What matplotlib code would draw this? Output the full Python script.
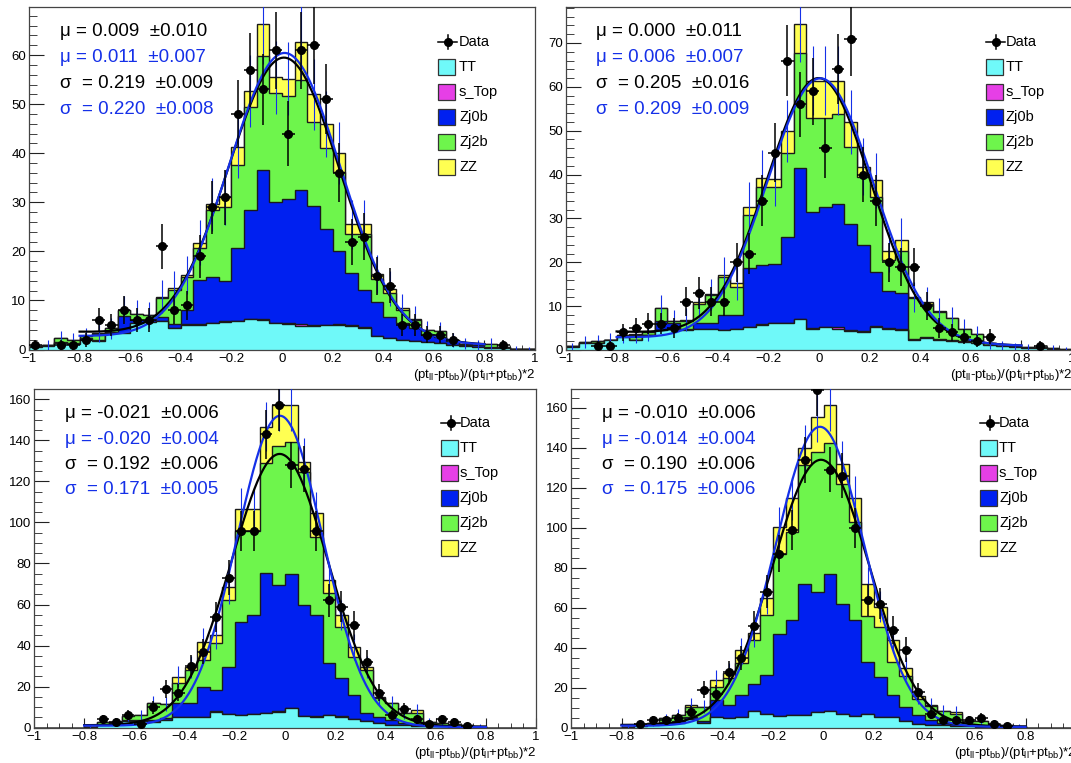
import numpy as np
import matplotlib.pyplot as plt
from matplotlib.patches import Rectangle
from matplotlib.lines import Line2D
from matplotlib.ticker import MultipleLocator, FuncFormatter

plt.rcParams['font.family'] = ['Liberation Sans', 'DejaVu Sans']
plt.rcParams['mathtext.fontset'] = 'custom'
plt.rcParams['mathtext.rm'] = 'Liberation Sans'
plt.rcParams['mathtext.default'] = 'regular'

W, H = 1071, 763

# 40 bins of 0.05 on (pt_ll-pt_bb)/(pt_ll+pt_bb)*2
edges = np.linspace(-1, 1, 41)
centers = 0.5 * (edges[:-1] + edges[1:])

# ---------------- panel 1 (top left)
p1_tt = [0.5, 0.8, 1.4, 1.2, 2.0, 1.8, 3.4, 3.4, 5.3, 5.6, 5.8, 4.3, 5.0, 5.0, 5.3, 5.6, 5.8, 6.2, 6.1, 5.4,
         5.2, 4.7, 4.8, 4.9, 5.0, 4.8, 4.4, 2.7, 2.3, 2.0, 1.8, 1.5, 1.4, 1.0, 0.7, 0.6, 0.4, 0.3, 0.1, 0.1]
p1_stop = [0] * 12 + [0.2, 0.2, 0.1, 0.2, 0.1, 0.1, 0.1, 0.1, 0.1, 0.4, 0.1, 0.1, 0.1, 0.1, 0.1] + [0] * 13
p1_zj0b = [0.3, 0.1, 0.2, 0.2, 0.3, 0.2, 0.1, 3.4, 0.7, 0.4, 0.9, 0.8, 2.8, 8.9, 9.4, 8.2, 14.7, 22.2, 30.3, 24.6,
           25.3, 27.4, 24.3, 19.5, 14.9, 10.7, 7.6, 6.9, 4.4, 3.3, 2.5, 1.5, 1.1, 0.7, 0.3, 0.3, 0.1, 0.0, 0.1, 0.0]
p1_zj2b = [0.0, 0.1, 0.7, 0.5, 0.5, 1.2, 0.8, 1.2, 1.3, 1.0, 3.7, 7.1, 6.8, 6.5, 13.6, 15.0, 17.0, 21.0, 23.3, 22.1,
           21.1, 22.5, 17.2, 16.5, 16.2, 7.9, 11.4, 4.7, 4.8, 2.7, 1.7, 0.9, 1.2, 0.2, 0.2, 0.0, 0.7, 0.2, 0.0, 0.0]
p1_zz = [0, 0, 0, 0, 0, 0.1, 0, 0.1, 0, 0.1, 0.4, 0.3, 0.4, 1.2, 1.2, 2.0, 3.7, 3.2, 6.6, 3.3,
         3.5, 7.7, 5.6, 5.0, 3.8, 2.0, 2.0, 1.1, 0.9, 0.4, 0.3, 0, 0, 0, 0, 0, 0, 0, 0, 0]
p1_data = [1, 0, 1, 1, 2, 6, 5, 8, 6, 6, 21, 8, 9, 19, 29, 31, 48, 57, 53, 61,
           44, 61, 62, 51, 36, 22, 23, 15, 13, 5, 5, 3, 3, 2, 0, 0, 0, 1, 0, 0]

# ---------------- panel 2 (top right)
p2_tt = [0.7, 1.7, 1.5, 2.3, 3.0, 2.3, 3.4, 4.6, 4.7, 4.6, 4.9, 4.8, 4.6, 4.9, 5.3, 5.7, 6.1, 6.1, 7.0, 4.9,
         5.2, 4.9, 4.4, 4.2, 5.3, 4.9, 4.6, 2.3, 2.7, 2.3, 2.1, 1.9, 1.5, 1.1, 0.8, 0.6, 0.5, 0.4, 0.3, 0.1]
p2_stop = [0] * 15 + [0.3, 0.1, 0.1, 0.0, 0.1, 0.1, 0.4, 0.1, 0.1, 0.1, 0.1, 0.1] + [0] * 13
p2_zj0b = [0.1, 0, 0.1, 0, 0, 0, 0, 2.1, 1.5, 0.3, 1.3, 1.4, 3.4, 3.1, 13.5, 13.4, 13.5, 19.5, 34.6, 26.5,
           27.3, 28.0, 24.2, 19.6, 12.4, 8.5, 8.2, 0.3, 0.3, 0.2, 0.1, 0.1, 0.1, 0.1, 0.1, 0.1, 0, 0, 0, 0]
p2_zj2b = [0, 0.1, 0.4, 0, 0.4, 1.1, 0.6, 2.8, 0.4, 1.8, 4.4, 6.3, 8.7, 6.3, 12.0, 17.8, 17.5, 19.1, 26.1, 21.5,
           20.2, 20.5, 17.6, 15.6, 17.1, 7.1, 9.7, 9.2, 7.5, 6.2, 5.0, 2.9, 2.0, 0.3, 0.1, 0.1, 0.1, 0.2, 0.1, 0.1]
p2_zz = [0, 0, 0, 0, 0, 0.2, 0, 0, 0, 0.2, 0.3, 0.2, 0.4, 1.0, 1.8, 2.1, 1.9, 5.2, 6.7, 8.4,
         8.6, 7.6, 5.7, 2.3, 3.8, 2.0, 2.5, 0.3, 0.5, 0.1, 0, 0, 0, 0, 0, 0, 0, 0, 0, 0]
p2_data = [0, 0, 1, 1, 4, 5, 6, 6, 5, 11, 13, 11, 11, 20, 22, 34, 45, 66, 56, 59,
           46, 64, 71, 40, 34, 20, 19, 19, 10, 5, 4, 3, 2, 3, 0, 0, 0, 1, 0, 0]

# ---------------- panel 3 (bottom left)
p3_tt = [0, 0, 0, 0, 0.2, 1.3, 2.1, 3.4, 3.4, 2.9, 3.7, 5.4, 5.0, 5.0, 7.8, 6.7, 6.2, 6.7, 7.0, 7.8,
         9.4, 5.7, 5.4, 6.2, 5.4, 4.1, 3.4, 2.1, 1.3, 1.3, 1.0, 0.8, 0.6, 0.5, 0.4, 0.2, 0, 0, 0, 0]
p3_stop = [0] * 13 + [0.1] * 13 + [0] * 14
p3_zj0b = [0, 0, 0, 0, 0, 0, 0, 0.2, 0.2, 0.8, 0.8, 6.5, 6.9, 14.9, 10.5, 22.9, 45.4, 48.1, 68.4, 61.6,
           65.2, 54.0, 49.4, 25.1, 18.5, 11.7, 3.6, 2.9, 2.4, 1.2, 0.8, 0.4, 0.4, 0.3, 0.2, 0.2, 0, 0, 0, 0]
p3_zj2b = [0, 0, 0, 0, 0.1, 1.6, 0.8, 2.1, 2.6, 8.2, 7.0, 9.7, 16.2, 13.0, 22.7, 32.5, 44.3, 41.1, 53.3, 67.5,
           64.7, 65.0, 38.2, 34.1, 25.2, 18.7, 21.1, 9.3, 8.2, 4.5, 5.2, 1.7, 1.4, 1.0, 0.7, 0.4, 0, 0, 0, 0]
p3_zz = [0, 0, 0, 0, 0, 0, 0, 0, 0, 0, 0, 3.3, 1.3, 8.9, 4.1, 6.5, 10.4, 10.4, 17.9, 20.2,
         17.8, 4.8, 11.4, 6.5, 5.7, 4.9, 1.6, 0.8, 0, 0, 1.6, 0, 0, 0, 0, 0, 0, 0, 0, 0]
p3_data = [0, 0, 0, 0, 0, 4, 3, 6, 2, 10, 19, 17, 30, 37, 54, 73, 96, 96, 143, 157,
           128, 126, 96, 62, 59, 50, 32, 17, 6, 9, 4, 2, 4, 3, 1, 0, 0, 0, 0, 0]

# ---------------- panel 4 (bottom right)
p4_tt = [0, 0, 0, 0, 0.3, 1.0, 1.2, 2.2, 2.5, 4.2, 2.5, 5.2, 4.7, 5.2, 8.3, 6.8, 5.9, 6.5, 6.2, 8.0,
         8.5, 7.0, 6.0, 7.0, 5.5, 5.5, 3.5, 2.0, 1.5, 1.2, 1.0, 0.8, 0.6, 0.5, 0.3, 0.2, 0, 0, 0, 0]
p4_stop = [0] * 11 + [0.1] * 16 + [0] * 13
p4_zj0b = [0, 0, 0, 0, 0.1, 0.2, 0.4, 0.8, 0.7, 1.0, 1.0, 8.5, 6.5, 11.0, 13.4, 19.4, 41.0, 47.4, 65.7, 59.9,
           68.4, 54.9, 47.9, 25.9, 19.9, 10.7, 6.9, 4.3, 2.5, 1.3, 1.0, 0.7, 0.4, 0.3, 0.2, 0.1, 0, 0, 0, 0]
p4_zj2b = [0, 0, 0, 0, 0.1, 0.3, 1.0, 1.7, 3.1, 5.3, 7.0, 6.7, 13.4, 15.9, 22.0, 30.0, 40.0, 44.0, 59.3, 70.0,
           65.2, 60.0, 49.0, 23.0, 25.0, 16.7, 15.5, 8.2, 7.0, 6.0, 5.0, 2.0, 2.5, 1.2, 0.7, 0.5, 0, 0, 0, 0]
p4_zz = [0, 0, 0, 0, 0, 0, 0, 0, 0.3, 0.8, 0, 3.3, 2.5, 6.6, 3.4, 8.4, 13.5, 16.7, 8.4, 17.5,
         19.1, 10.0, 12.0, 16.0, 10.0, 11.0, 3.7, 1.5, 0.5, 0, 1.0, 0, 0, 0, 0, 0, 0, 0, 0, 0]
p4_data = [0, 0, 0, 0, 0, 2, 4, 4, 5, 8, 19, 17, 28, 35, 51, 68, 87, 99, 134, 169,
           129, 126, 100, 64, 62, 49, 39, 18, 7, 4, 4, 4, 5, 2, 1, 0, 0, 0, 0, 0]

# fit results shown in each panel: (value, error) for mu data, mu MC, sigma data, sigma MC
p1_fit_text = [("0.009", "0.010"), ("0.011", "0.007"), ("0.219", "0.009"), ("0.220", "0.008")]
p2_fit_text = [("0.000", "0.011"), ("0.006", "0.007"), ("0.205", "0.016"), ("0.209", "0.009")]
p3_fit_text = [("-0.021", "0.006"), ("-0.020", "0.004"), ("0.192", "0.006"), ("0.171", "0.005")]
p4_fit_text = [("-0.010", "0.006"), ("-0.014", "0.004"), ("0.190", "0.006"), ("0.175", "0.006")]

# fitted curves: gaus(amp, mu, sigma) + pol1(b0, b1), drawn on [-0.8, 0.8]
p1_fit_black = (57.2, 0.009, 0.219, 2.3, -1.6)
p1_fit_blue = (58.6, 0.011, 0.220, 1.85, -1.1)
p2_fit_black = (59.4, 0.000, 0.205, 2.6, -2.0)
p2_fit_blue = (60.0, 0.006, 0.209, 1.95, -1.2)
p3_fit_black = (132.5, -0.021, 0.192, 0.85, -0.45)
p3_fit_blue = (151.3, -0.020, 0.171, 0.65, -0.45)
p4_fit_black = (133.0, -0.010, 0.190, 1.0, -0.5)
p4_fit_blue = (149.8, -0.014, 0.175, 0.7, -0.4)

labels = ["TT", "s_Top", "Zj0b", "Zj2b", "ZZ"]
colors = ["#6ff9f9", "#e63fe6", "#0020f0", "#6ef54c", "#ffff52"]
BLUE = "#1530e8"

panels = [
    dict(box=(29, 7, 535, 349.5), ymax=69.8, ymaj=10, ymin=2,
         comps=[p1_tt, p1_stop, p1_zj0b, p1_zj2b, p1_zz], data=p1_data,
         fits=(p1_fit_black, p1_fit_blue), text=p1_fit_text,
         text_xy=(60, [31.7, 57.3, 83.3, 109.3]), leg=(438, 459, 41.7)),
    dict(box=(566, 7, 1072, 350), ymax=78.2, ymaj=10, ymin=2,
         comps=[p2_tt, p2_stop, p2_zj0b, p2_zj2b, p2_zz], data=p2_data,
         fits=(p2_fit_black, p2_fit_blue), text=p2_fit_text,
         text_xy=(596, [31.7, 57.3, 83.3, 109.3]), leg=(986, 1006, 41.7)),
    dict(box=(34, 389, 536, 727.7), ymax=165, ymaj=20, ymin=5,
         comps=[p3_tt, p3_stop, p3_zj0b, p3_zj2b, p3_zz], data=p3_data,
         fits=(p3_fit_black, p3_fit_blue), text=p3_fit_text,
         text_xy=(65, [413.3, 439.3, 464.3, 489.3]), leg=(441, 460, 422.7)),
    dict(box=(571, 389, 1076, 727.7), ymax=169.4, ymaj=20, ymin=5,
         comps=[p4_tt, p4_stop, p4_zj0b, p4_zj2b, p4_zz], data=p4_data,
         fits=(p4_fit_black, p4_fit_blue), text=p4_fit_text,
         text_xy=(602, [413.3, 439.3, 464.3, 489.3]), leg=(980, 999, 422.7)),
]


def fx(px):
    return px / W


def fy(py):
    return 1 - py / H


def tick_fmt(v, pos):
    v = round(v, 6)
    if abs(v) < 1e-9:
        return "0"
    return f"{v:g}".replace("-", "\u2212")


fig = plt.figure(figsize=(W / 100, H / 100), dpi=100)

for p in panels:
    l, t, r, b = p["box"]
    ax = fig.add_axes([fx(l), fy(b), (r - l) / W, (b - t) / H])

    # stacked histograms, drawn from the full stack down to TT
    cum = np.cumsum(np.array(p["comps"], dtype=float), axis=0)
    for k in range(4, -1, -1):
        ax.stairs(cum[k], edges, baseline=0, fill=True, facecolor=colors[k],
                  edgecolor="#1a1a1a", lw=1.0, zorder=2)

    total = cum[4]
    m = total > 0
    ax.errorbar(centers[m], total[m], yerr=np.sqrt(total[m]), fmt="none",
                ecolor=BLUE, elinewidth=0.8, zorder=3)

    # fits
    xs = np.linspace(-0.8, 0.8, 400)
    for par, col in zip(p["fits"], ["black", BLUE]):
        amp, mu, sig, b0, b1 = par
        ax.plot(xs, amp * np.exp(-0.5 * ((xs - mu) / sig) ** 2) + b0 + b1 * xs,
                color=col, lw=1.6, zorder=4)

    # data
    d = np.array(p["data"], dtype=float)
    md = d > 0
    ax.errorbar(centers[md], d[md], xerr=0.025, yerr=np.sqrt(d[md]), fmt="o",
                color="black", ms=5.5, elinewidth=1.1, capsize=0, zorder=5)

    ax.set_xlim(-1, 1)
    ax.set_ylim(0, p["ymax"])
    ax.xaxis.set_major_locator(MultipleLocator(0.2))
    ax.xaxis.set_minor_locator(MultipleLocator(0.05))
    ax.yaxis.set_major_locator(MultipleLocator(p["ymaj"]))
    ax.yaxis.set_minor_locator(MultipleLocator(p["ymin"]))
    ax.xaxis.set_major_formatter(FuncFormatter(tick_fmt))
    ax.tick_params(which="both", direction="in", top=False, right=False,
                   labelsize=9.5, color="#222222")
    ax.tick_params(axis="y", which="major", length=11, pad=2)
    ax.tick_params(axis="y", which="minor", length=6)
    ax.tick_params(axis="x", which="major", length=7, pad=2.5)
    ax.tick_params(axis="x", which="minor", length=3.6)
    for s in ax.spines.values():
        s.set_color("#444444")
        s.set_linewidth(0.9)

    fig.text(fx(r), fy(b + 25), r"(pt$_{ll}$-pt$_{bb}$)/(pt$_{ll}$+pt$_{bb}$)*2",
             ha="right", va="center", fontsize=9.5)

    # fit results
    tx, tys = p["text_xy"]
    syms = ["\u03bc = ", "\u03bc = ", "\u03c3  = ", "\u03c3  = "]
    for (val, err), sym, ty, col in zip(p["text"], syms, tys, ["black", BLUE, "black", BLUE]):
        fig.text(fx(tx), fy(ty), f"{sym}{val}  \u00b1{err}", color=col,
                 fontsize=13.5, ha="left", va="center")

    # legend
    sx, lx, ly = p["leg"]
    sw, sh = 17, 16
    fig.add_artist(Line2D([fx(sx), fx(sx + sw + 2)], [fy(ly), fy(ly)], color="black", lw=1.1))
    fig.add_artist(Line2D([fx(sx + sw / 2 + 1)] * 2, [fy(ly - 7), fy(ly + 7)], color="black", lw=1.1))
    fig.add_artist(Line2D([fx(sx + sw / 2 + 1)], [fy(ly)], marker="o", ms=5.5, color="black"))
    fig.text(fx(lx), fy(ly), "Data", fontsize=10.5, ha="left", va="center")
    for k in range(5):
        yy = ly + 25 * (k + 1)
        fig.add_artist(Rectangle((fx(sx), fy(yy + sh / 2)), sw / W, sh / H,
                                 facecolor=colors[k], edgecolor="#333333", lw=0.9))
        fig.text(fx(lx), fy(yy), labels[k], fontsize=10.5, ha="left", va="center")

fig.savefig("out.png", dpi=100)
